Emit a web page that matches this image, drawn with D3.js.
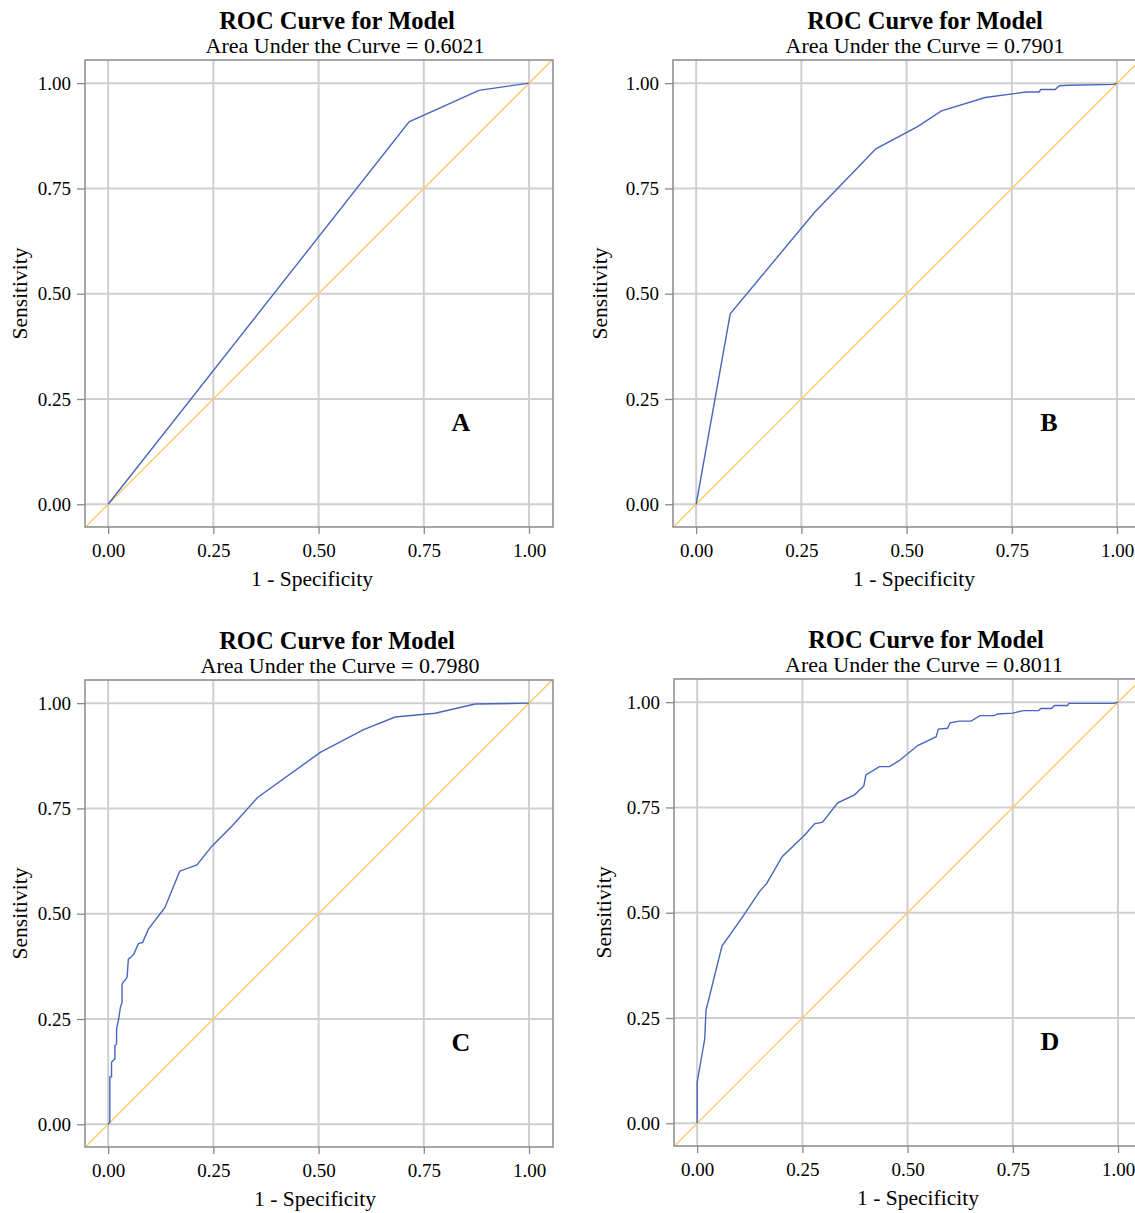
<!DOCTYPE html>
<html>
<head>
<meta charset="utf-8">
<script src="https://cdn.jsdelivr.net/npm/d3@7"></script>
<style>
  body { margin: 0; background: #fff; }
  text { font-family: "Liberation Serif", "Times New Roman", serif; fill: #000; }
  .grid line { stroke: #cfcfcf; stroke-width: 2; }
  .axis path { display: none; }
  .axis line { stroke: #8a8a8a; stroke-width: 1.3; }
  .axis text { font-size: 19px; }
  .frame { fill: none; stroke: #8a8a8a; stroke-width: 1.5; }
  .roc { fill: none; stroke: #4766bd; stroke-width: 1.4; }
  .diag { stroke: #f9cd68; stroke-width: 1.4; }
</style>
</head>
<body>
<svg id="chart" width="1135" height="1213"></svg>
<script>
// ROC points, one pair of arrays per panel
const fprA = [0, 0.715, 0.881, 1];
const tprA = [0, 0.908, 0.983, 1];

const fprB = [0, 0.081, 0.281, 0.427, 0.526, 0.583, 0.687, 0.784, 0.815, 0.819, 0.853, 0.863, 0.887, 0.993, 1];
const tprB = [0, 0.452, 0.693, 0.844, 0.897, 0.934, 0.966, 0.979, 0.979, 0.985, 0.985, 0.994, 0.995, 0.997, 1];

const fprC = [0, 0.004, 0.004, 0.008, 0.008, 0.016, 0.016, 0.020, 0.020, 0.025, 0.029, 0.033, 0.033, 0.045, 0.048,
              0.052, 0.061, 0.072, 0.082, 0.096, 0.135, 0.170, 0.211, 0.247, 0.295, 0.355, 0.504, 0.607, 0.682,
              0.777, 0.872, 1];
const tprC = [0, 0.005, 0.1125, 0.1125, 0.147, 0.155, 0.187, 0.19, 0.226, 0.25, 0.277, 0.289, 0.333, 0.349, 0.392,
              0.395, 0.404, 0.429, 0.432, 0.464, 0.515, 0.601, 0.616, 0.661, 0.709, 0.776, 0.883, 0.937, 0.967,
              0.976, 0.998, 1];

const fprD = [0, 0, 0.018, 0.021, 0.059, 0.108, 0.148, 0.165, 0.202, 0.255, 0.279, 0.298, 0.334, 0.374, 0.396,
              0.401, 0.433, 0.457, 0.48, 0.524, 0.568, 0.573, 0.595, 0.601, 0.623, 0.651, 0.672, 0.706, 0.714,
              0.75, 0.775, 0.811, 0.817, 0.842, 0.849, 0.88, 0.883, 0.991, 1];
const tprD = [0, 0.0975, 0.2, 0.268, 0.421, 0.49, 0.55, 0.569, 0.633, 0.684, 0.711, 0.715, 0.761, 0.78, 0.801,
              0.827, 0.847, 0.847, 0.861, 0.897, 0.918, 0.936, 0.938, 0.951, 0.955, 0.955, 0.968, 0.968, 0.972,
              0.974, 0.98, 0.98, 0.985, 0.985, 0.992, 0.992, 0.997, 0.997, 1];

const aucLabels = ["0.6021", "0.7901", "0.7980", "0.8011"];
const panelLetters = ["A", "B", "C", "D"];
const tickValues = [0, 0.25, 0.5, 0.75, 1];

// panel placement (frame top-left corner and a few text offsets)
const panels = [
    { left: 85, top: 60, fpr: fprA, tpr: tprA, subDx: 260, xlabDx: 227, ylabX: 20 },
    { left: 673, top: 60, fpr: fprB, tpr: tprB, subDx: 252, xlabDx: 241, ylabX: 600 },
    { left: 85, top: 680, fpr: fprC, tpr: tprC, subDx: 255, xlabDx: 230, ylabX: 20 },
    { left: 674, top: 679, fpr: fprD, tpr: tprD, subDx: 250, xlabDx: 244, ylabX: 604 }
];

const frameW = 468, frameH = 467;
const domainX = [-0.055, 1.057];
const domainY = [-0.054, 1.055];

const svg = d3.select("#chart");
svg.append("rect").attr("width", 1135).attr("height", 1213).attr("fill", "#fff");

panels.forEach((p, i) => {
    const g = svg.append("g").attr("transform", `translate(${p.left}, ${p.top})`);

    const x = d3.scaleLinear().domain(domainX).range([0, frameW]);
    const y = d3.scaleLinear().domain(domainY).range([frameH, 0]);

    const clipId = "clip" + i;
    g.append("clipPath").attr("id", clipId)
        .append("rect").attr("width", frameW).attr("height", frameH);

    // gridlines
    const grid = g.append("g").attr("class", "grid");
    grid.selectAll(".gx").data(tickValues).join("line")
        .attr("x1", d => x(d)).attr("x2", d => x(d))
        .attr("y1", 0).attr("y2", frameH);
    grid.selectAll(".gy").data(tickValues).join("line")
        .attr("class", "gy")
        .attr("y1", d => y(d)).attr("y2", d => y(d))
        .attr("x1", 0).attr("x2", frameW);

    // axes
    g.append("g")
        .attr("class", "axis")
        .attr("transform", `translate(0, ${frameH})`)
        .call(d3.axisBottom(x).tickValues(tickValues).tickFormat(d3.format(".2f")).tickSize(7).tickPadding(10));

    g.append("g")
        .attr("class", "axis")
        .call(d3.axisLeft(y).tickValues(tickValues).tickFormat(d3.format(".2f")).tickSize(8).tickPadding(6));

    // reference diagonal
    g.append("line")
        .attr("class", "diag")
        .attr("clip-path", `url(#${clipId})`)
        .attr("x1", x(-0.1)).attr("y1", y(-0.1))
        .attr("x2", x(1.1)).attr("y2", y(1.1));

    // ROC curve
    const pts = p.fpr.map((f, k) => [f, p.tpr[k]]);
    const line = d3.line().x(d => x(d[0])).y(d => y(d[1]));
    g.append("path")
        .datum(pts)
        .attr("class", "roc")
        .attr("clip-path", `url(#${clipId})`)
        .attr("d", line);

    g.append("rect").attr("class", "frame").attr("width", frameW).attr("height", frameH);

    // panel letter
    g.append("text")
        .attr("x", x(0.838))
        .attr("y", y(0.173))
        .attr("text-anchor", "middle")
        .style("font-size", "26px")
        .style("font-weight", "bold")
        .text(panelLetters[i]);

    // titles
    g.append("text")
        .attr("x", 252)
        .attr("y", -31)
        .attr("text-anchor", "middle")
        .style("font-size", "24.5px")
        .style("font-weight", "bold")
        .text("ROC Curve for Model");

    g.append("text")
        .attr("x", p.subDx)
        .attr("y", -7)
        .attr("text-anchor", "middle")
        .style("font-size", "22px")
        .text("Area Under the Curve = " + aucLabels[i]);

    // axis labels
    g.append("text")
        .attr("x", p.xlabDx)
        .attr("y", frameH + 59)
        .attr("text-anchor", "middle")
        .style("font-size", "21.5px")
        .text("1 - Specificity");

    g.append("text")
        .attr("transform", `translate(${p.ylabX - p.left + 7}, ${frameH / 2}) rotate(-90)`)
        .attr("text-anchor", "middle")
        .style("font-size", "21.5px")
        .text("Sensitivity");
});
</script>
</body>
</html>
